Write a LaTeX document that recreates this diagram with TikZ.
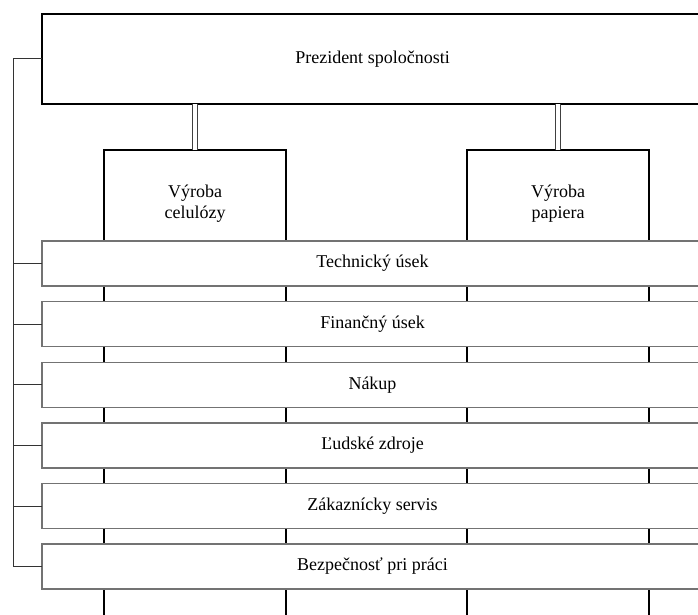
\documentclass[tikz,border=0pt]{standalone}
\usepackage{fontspec}
\setmainfont{Liberation Serif}
\begin{document}
\begin{tikzpicture}[x=1pt,y=-1pt,
  lbl/.style={font=\fontsize{18}{21}\selectfont, text=black},
  topbox/.style={draw=black, line width=2.2pt, fill=white, anchor=north west,
    minimum width=661pt, minimum height=90pt, inner sep=0pt, outer sep=0pt, lbl},
  unitbox/.style={draw=black, line width=2.2pt, fill=white, anchor=north west,
    minimum width=182pt, minimum height=106pt, inner sep=0pt, outer sep=0pt},
  barbox/.style={draw=black!55, line width=1.5pt, fill=white, anchor=north west,
    minimum width=661pt, minimum height=45pt, inner sep=0pt, outer sep=0pt, lbl},
  vline/.style={draw=black, line width=2.6pt},
  conn/.style={draw=black!80, line width=1pt},
  dbl/.style={draw=black!75, line width=0.9pt, double=white, double distance=4.6pt}
]
\useasboundingbox (0,0) rectangle (698,615);
\clip (0,0) rectangle (698,615);
\fill[white] (0,0) rectangle (698,615);

% president
\node[topbox] (pres) at (42,14) {Prezident spoločnosti};

% production units
\node[unitbox] (v1) at (104,150) {};
\node[unitbox] (v2) at (467,150) {};
\node[lbl, align=center] (t1) at (195,203.5) {Výroba\\celulózy};
\node[lbl, align=center] (t2) at (558,203.5) {Výroba\\papiera};

% double connectors
\draw[dbl] (v1.north) -- (v1.north |- pres.south);
\draw[dbl] (v2.north) -- (v2.north |- pres.south);

% vertical lines of the units
\coordinate (bot) at (0,620);
\draw[vline] (v1.south west) -- (v1.south west |- bot);
\draw[vline] (v1.south east) -- (v1.south east |- bot);
\draw[vline] (v2.south west) -- (v2.south west |- bot);
\draw[vline] (v2.south east) -- (v2.south east |- bot);

% function bars
\node[barbox] (b1) at (42,241)   {Technický úsek};
\node[barbox] (b2) at (42,301.7) {Finančný úsek};
\node[barbox] (b3) at (42,362.3) {Nákup};
\node[barbox] (b4) at (42,423)   {Ľudské zdroje};
\node[barbox] (b5) at (42,483.5) {Zákaznícky servis};
\node[barbox] (b6) at (42,544)   {Bezpečnosť pri práci};

% left spine
\coordinate (sp) at (13,0);
\draw[conn] (pres.west) -- (pres.west -| sp) |- (b6.west);
\foreach \b in {b1,b2,b3,b4,b5}
  \draw[conn] (\b.west) -- (\b.west -| sp);
\end{tikzpicture}
\end{document}
